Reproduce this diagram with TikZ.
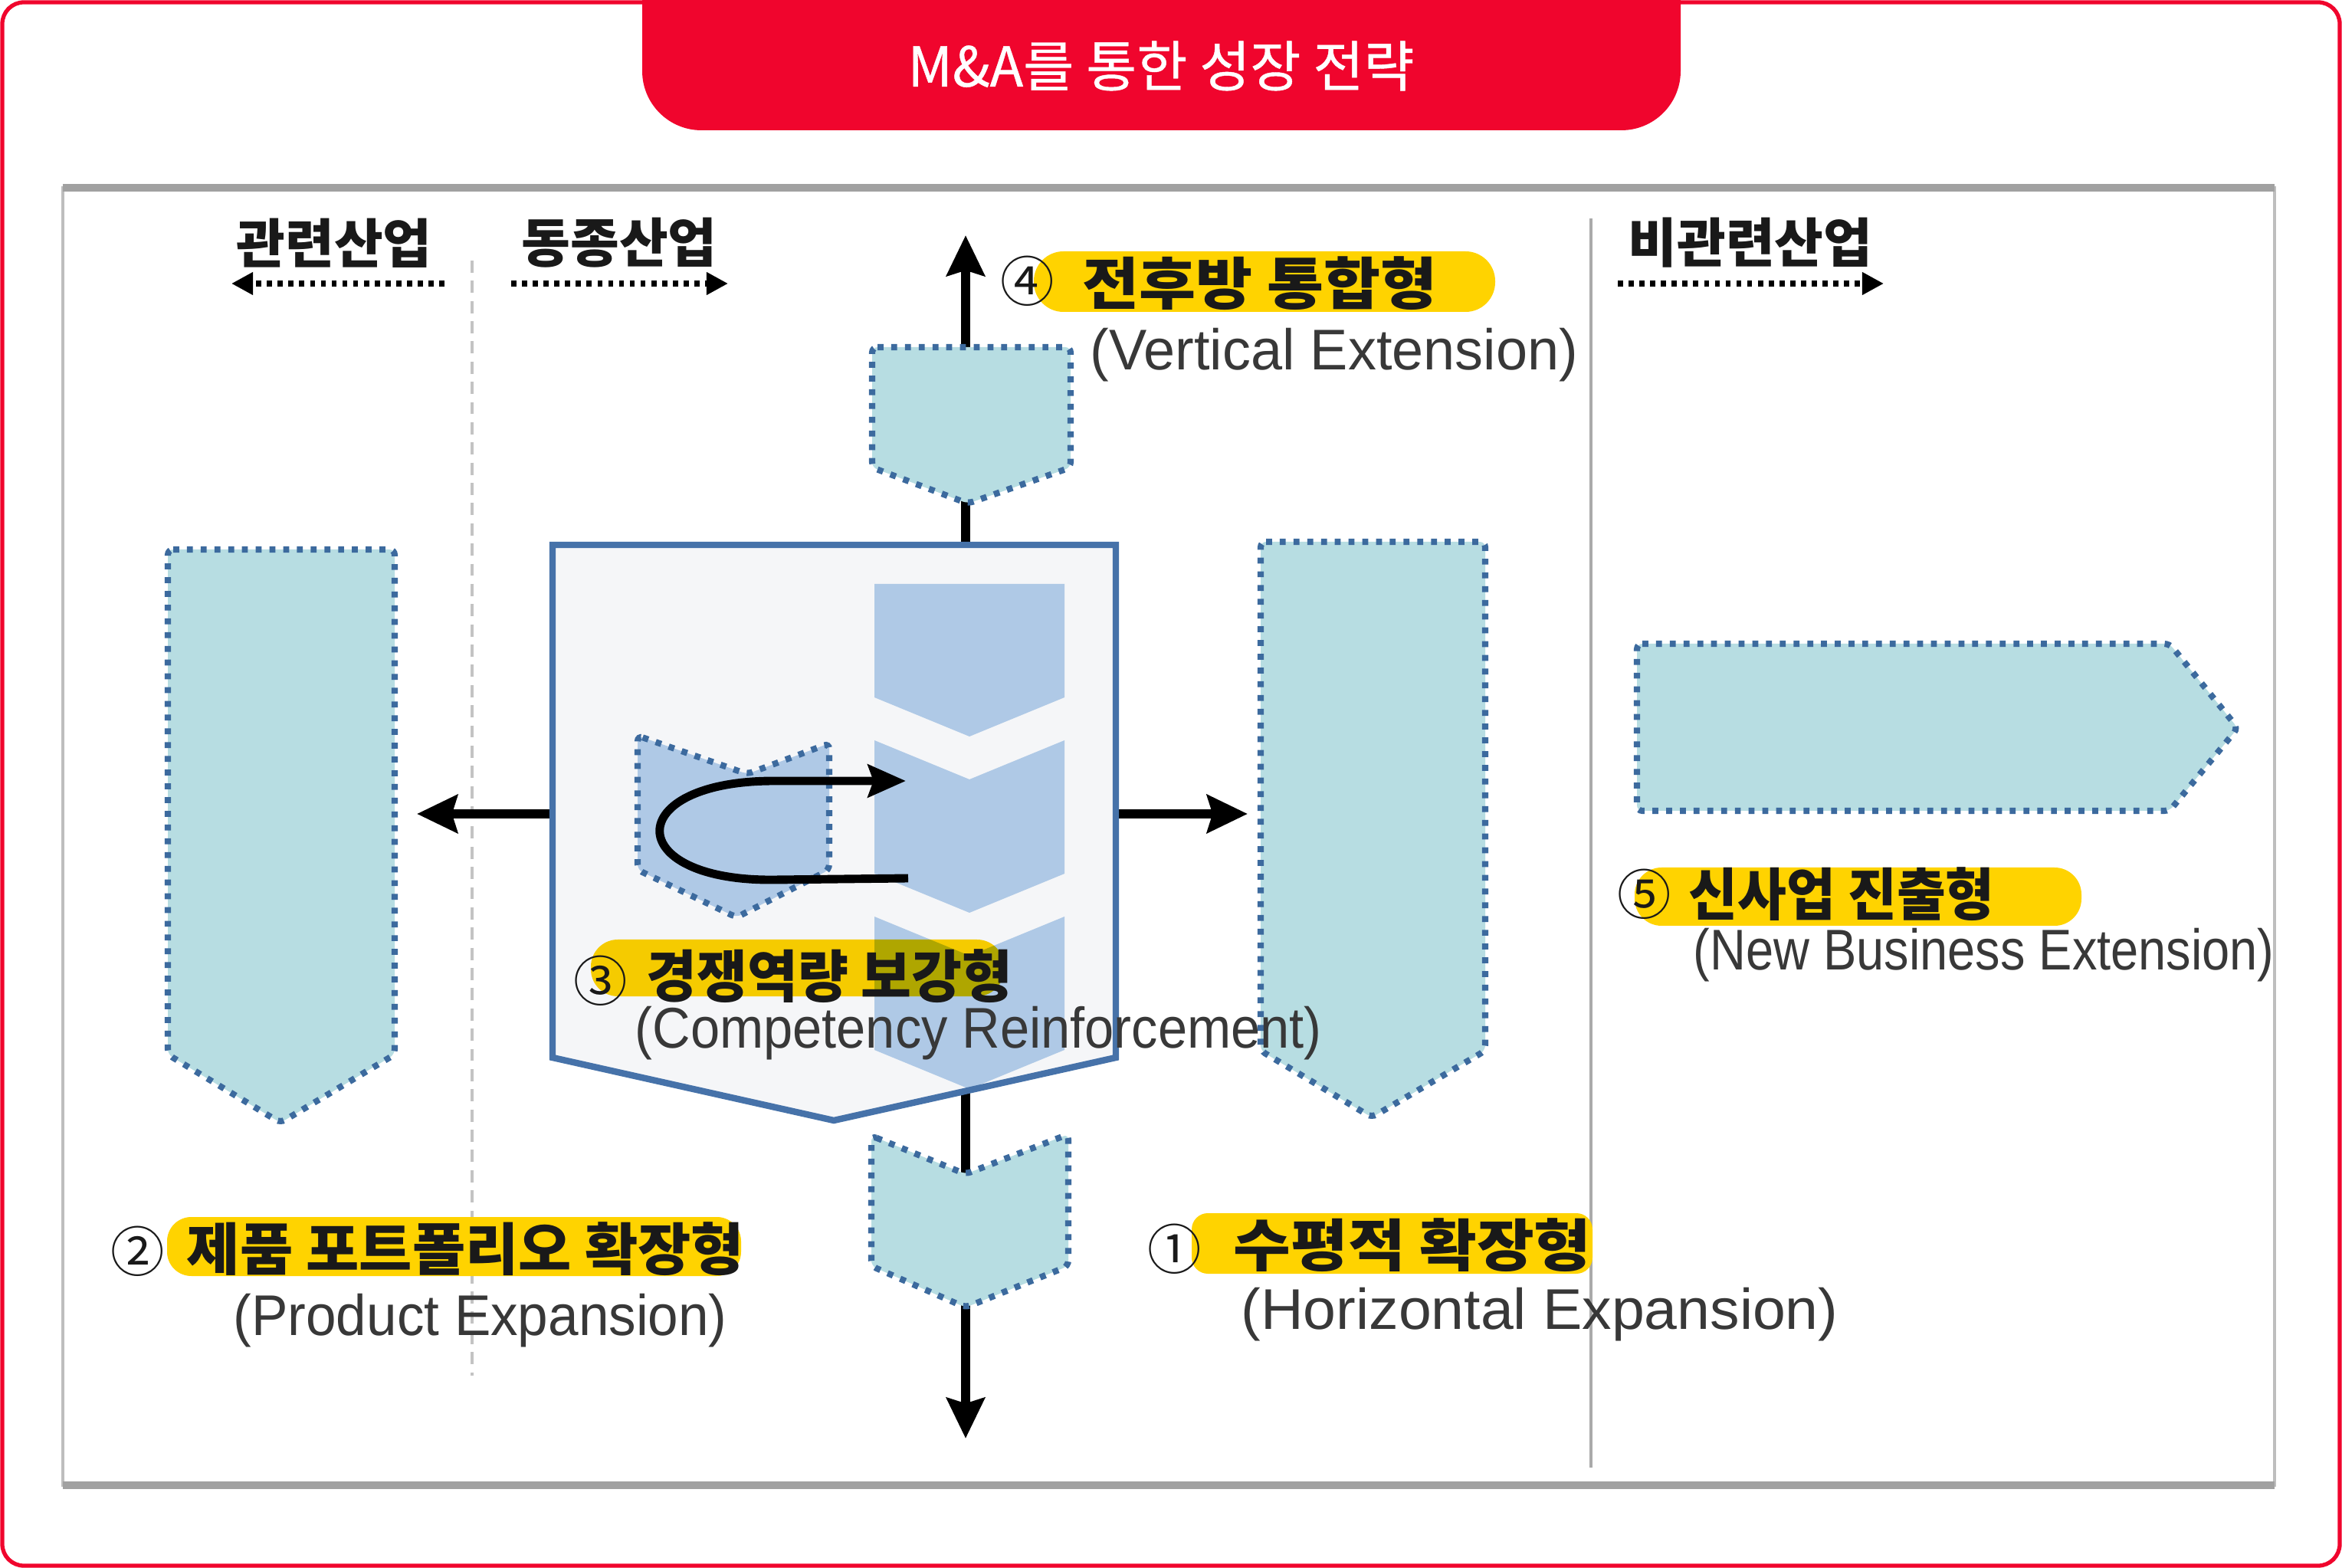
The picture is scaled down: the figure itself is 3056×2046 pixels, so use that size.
\documentclass[tikz,border=0pt]{standalone}
\usepackage{fontspec}
\usepackage{graphicx}
\usetikzlibrary{arrows.meta}
\setmainfont{Liberation Sans}
\newfontfamily\kr{Noto Sans CJK KR}
\newfontfamily\krmed[FakeBold=0.6]{Noto Sans CJK KR}
\definecolor{brandred}{RGB}{240,5,45}
\definecolor{hlyellow}{RGB}{255,211,0}
\definecolor{tealfill}{RGB}{183,221,226}
\definecolor{dotblue}{RGB}{60,106,158}
\definecolor{boxblue}{RGB}{70,114,169}
\definecolor{chevblue}{RGB}{175,201,230}
\definecolor{boxfill}{RGB}{245,246,248}
\definecolor{framegray}{RGB}{190,190,190}
\definecolor{sepgray}{RGB}{195,195,195}
\definecolor{sepgray2}{RGB}{170,170,170}
\definecolor{kdark}{RGB}{25,25,25}
\definecolor{edark}{RGB}{56,56,56}
\tikzset{
  shapefill/.style={fill=tealfill, draw=dotblue, line width=2.3pt, dash pattern=on 2.2pt off 2.9pt, rounded corners=2pt},
  bigarrow/.style={line width=3.4pt, -{Stealth[length=15pt,width=14pt,inset=2pt]}},
  hdrarrow/.style={line width=2pt, dash pattern=on 1.9pt off 2.1pt, -{Triangle[length=8pt,width=8pt]}},
  hilite/.style={fill=hlyellow},
  hdr/.style={font=\kr\bfseries\fontsize{19.7}{21}\selectfont, text=kdark, inner sep=0pt},
  krlabel/.style={font=\kr\bfseries\fontsize{21}{23}\selectfont, text=kdark, anchor=west, inner sep=0pt},
  numlabel/.style={font=\kr\fontsize{20}{22}\selectfont, text=kdark, inner sep=0pt},
  enlabel/.style={font=\fontsize{21.3}{24}\selectfont, text=edark, anchor=west, inner sep=0pt},
}
\begin{document}
\begin{tikzpicture}[x=0.01cm,y=-0.01cm]
\useasboundingbox (0,0) rectangle (3056,2046);
\fill[white] (0,0) rectangle (3056,2046);
% outer frame
\draw[brandred, line width=1.5pt, rounded corners=8pt] (3,3) rectangle (3053,2043);
% title tab
\fill[brandred] (838,0) {[rounded corners=22pt] -- (838,170) -- (2193,170)} -- (2193,0) -- cycle;
\node[font=\krmed\fontsize{20.4}{22}\selectfont, text=white] (title) at (1515,86) {M\&A를 통한 성장 전략};
% inner gray box
\draw[framegray, line width=1.1pt] (82,245) rectangle (2968,1938);
\draw[framegray!85!black, line width=2.6pt] (82,245) -- (2968,245);
\draw[framegray!85!black, line width=2.6pt] (82,1938) -- (2968,1938);
% separators
\draw[sepgray, line width=1.1pt, dash pattern=on 4.5pt off 3pt] (616,340) -- (616,1795);
\draw[sepgray2, line width=0.9pt] (2076,285) -- (2076,1915);
% header labels
\node[hdr] (rel) at (436,317) {관련산업};
\node[hdr] (same) at (808,317) {동종산업};
\node[hdr] (unrel) at (2284,317) {비관련산업};
\coordinate (relA) at (580,370); \coordinate (relB) at (302,370);
\coordinate (sameA) at (667,370); \coordinate (sameB) at (950,370);
\coordinate (unrelA) at (2111,370); \coordinate (unrelB) at (2458,370);
\draw[hdrarrow] (relA) -- (relB);
\draw[hdrarrow] (sameA) -- (sameB);
\draw[hdrarrow] (unrelA) -- (unrelB);
% main arrows from the centre box
\coordinate (cT) at (1260,711); \coordinate (upTip) at (1260,307);
\coordinate (cB) at (1260,1426); \coordinate (downTip) at (1260,1877);
\coordinate (cL) at (721,1062); \coordinate (leftTip) at (544,1062);
\coordinate (cR) at (1456,1062); \coordinate (rightTip) at (1628,1062);
\draw[bigarrow] (cT) -- (upTip);
\draw[bigarrow] (cB) -- (downTip);
\draw[bigarrow] (cL) -- (leftTip);
\draw[bigarrow] (cR) -- (rightTip);
% dotted shapes
\path[shapefill] (219,717) -- (515,717) -- (515,1376) -- (366,1465) -- (219,1376) -- cycle;
\path[shapefill] (1645,707) -- (1938,707) -- (1938,1371) -- (1790,1458) -- (1645,1371) -- cycle;
\path[shapefill] (1138,453) -- (1397,453) -- (1397,610) -- (1263,657) -- (1138,610) -- cycle;
\path[shapefill] (1137,1482) -- (1260,1532) -- (1394,1480) -- (1394,1652) -- (1260,1706) -- (1137,1652) -- cycle;
\path[shapefill] (2136,840) -- (2831,840) -- (2920,950) -- (2831,1058) -- (2136,1058) -- cycle;
% centre box
\fill[boxfill] (721,711) -- (1456,711) -- (1456,1380) -- (1088,1462) -- (721,1380) -- cycle;
\fill[chevblue] (1141,762) -- (1389,762) -- (1389,910) -- (1265,961) -- (1141,910) -- cycle;
\fill[chevblue] (1141,966) -- (1265,1017) -- (1389,966) -- (1389,1140) -- (1265,1191) -- (1141,1140) -- cycle;
\fill[chevblue] (1141,1196) -- (1265,1247) -- (1389,1196) -- (1389,1370) -- (1265,1421) -- (1141,1370) -- cycle;
\path[shapefill, fill=chevblue] (832,960) -- (975,1010) -- (1082,970) -- (1082,1135) -- (961,1197) -- (832,1135) -- cycle;
\coordinate (uS) at (1185,1146); \coordinate (uE) at (1182,1019);
\draw[line width=3.1pt, -{Stealth[length=14pt,width=12pt,inset=2pt]}] (uS) -- (1010,1148) .. controls (811,1150) and (811,1019) .. (1010,1019) -- (uE);
\draw[boxblue, line width=2.4pt, line join=miter] (721,711) -- (1456,711) -- (1456,1380) -- (1088,1462) -- (721,1380) -- cycle;
% highlight bars
\fill[hilite, rounded corners=11pt] (1349,328) rectangle (1951,407);
\fill[hilite, rounded corners=10pt, blend mode=multiply] (771,1226) rectangle (1310,1300);
\fill[hilite, rounded corners=9pt] (218,1588) rectangle (967,1665);
\fill[hilite, rounded corners=6pt] (1555,1583) rectangle (2078,1662);
\fill[hilite, rounded corners=10pt] (2133,1132) rectangle (2716,1208);
% labels
\node[numlabel] (n4) at (1341,367) {④};
\node[krlabel] (k4) at (1412,370) {\scalebox{1.09}[1]{전후방 통합형}};
\node[enlabel] (e4) at (1422,463) {\scalebox{0.986}[1]{(Vertical Extension)}};
\node[numlabel] (n3) at (784,1280) {③};
\node[krlabel] (k3) at (843,1274) {\scalebox{0.97}[1]{경쟁역량 보강형}};
\node[enlabel] (e3) at (828,1348) {\scalebox{0.916}[1]{(Competency Reinforcement)}};
\node[numlabel] (n2) at (180,1633) {②};
\node[krlabel] (k2) at (243,1630) {\scalebox{1.02}[1]{제품 포트폴리오 확장형}};
\node[enlabel] (e2) at (304,1723) {\scalebox{0.949}[1]{(Product Expansion)}};
\node[numlabel] (n1) at (1533,1630) {①};
\node[krlabel] (k1) at (1609,1625) {\scalebox{1.10}[1]{수평적 확장형}};
\node[enlabel] (e1) at (1619,1715) {\scalebox{1.028}[1]{(Horizontal Expansion)}};
\node[numlabel] (n5) at (2146,1167) {⑤};
\node[krlabel] (k5) at (2203,1167) {\scalebox{0.94}[1]{신사업 진출형}};
\node[enlabel] (e5) at (2209,1246) {\scalebox{0.867}[1]{(New Business Extension)}};
\end{tikzpicture}
\end{document}
